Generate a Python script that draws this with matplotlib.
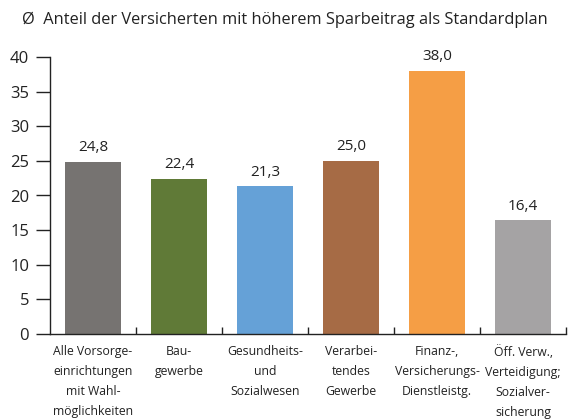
import matplotlib.pyplot as plt
import numpy as np

plt.rcParams['font.family'] = ['Open Sans', 'DejaVu Sans']

# Daten
kategorien = ["Alle Vorsorge-\neinrichtungen\nmit Wahl-\nmöglichkeiten",
              "Bau-\ngewerbe",
              "Gesundheits-\nund\nSozialwesen",
              "Verarbei-\ntendes\nGewerbe",
              "Finanz-,\nVersicherungs-\nDienstleistg.",
              "Öff. Verw.,\nVerteidigung;\nSozialver-\nsicherung"]
werte = [24.8, 22.4, 21.3, 25.0, 38.0, 16.4]
farben = ["#767371", "#607a37", "#65a1d7", "#a66b45", "#f59e45", "#a5a3a4"]
y_ticks = [0, 5, 10, 15, 20, 25, 30, 35, 40]

fig = plt.figure(figsize=(5.74, 4.19), dpi=100)
ax = fig.add_axes([50 / 574, 1 - 334 / 419, 516 / 574, 277 / 419])

x = np.arange(len(werte))
ax.bar(x, werte, width=0.64, color=farben)

# Werte über den Balken
for xi, w in zip(x, werte):
    ax.text(xi, w + 1.0, f"{w:.1f}".replace(".", ","), ha="center", va="bottom",
            fontsize=11, color="#222222")

ax.set_xlim(-0.5, len(werte) - 0.5)
ax.set_ylim(0, 40)
ax.set_yticks(y_ticks)
ax.tick_params(axis="y", length=10, width=1, pad=5, labelsize=12, colors="#222222")
ax.set_xticks(x)
ax.set_xticklabels(kategorien, fontsize=8.8, linespacing=1.7)
ax.tick_params(axis="x", which="major", length=0, pad=8, colors="#222222")
ax.set_xticks(np.arange(0.5, len(werte), 1), minor=True)
ax.tick_params(axis="x", which="minor", direction="in", length=5, width=1, color="#222222")

for s in ["top", "right"]:
    ax.spines[s].set_visible(False)
for s in ["left", "bottom"]:
    ax.spines[s].set_color("#222222")
    ax.spines[s].set_linewidth(1)

fig.text(22 / 574, 1 - 20 / 419, "Ø  Anteil der Versicherten mit höherem Sparbeitrag als Standardplan",
         fontsize=11.8, ha="left", va="center", color="#222222")

fig.savefig("out.png", dpi=100)
